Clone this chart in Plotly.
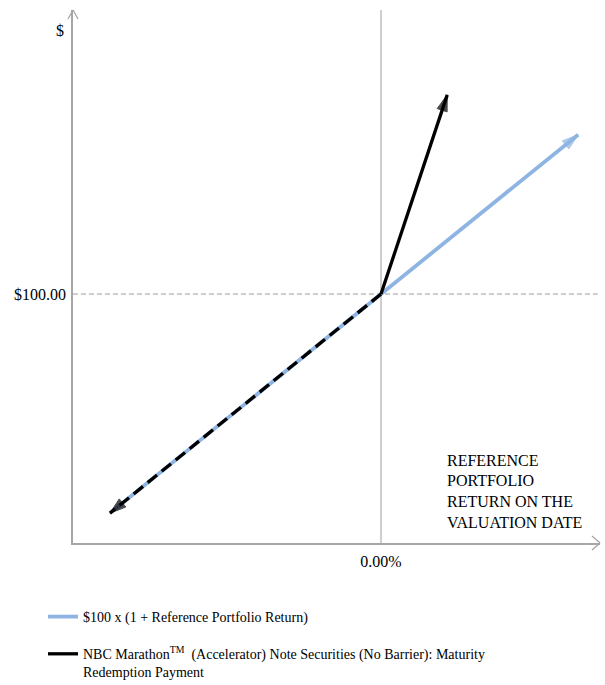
import plotly.graph_objects as go

# Data (return in %, value in $)
ref_x = [-88, 0, 64]
ref_y = [12, 100, 164]
note_up_x = [0, 21.5]
note_up_y = [100, 180]
note_down_x = [0, -88]
note_down_y = [100, 12]
x_range = [-100, 71.1]
y_range = [0, 214.1]
axis_label_lines = ["REFERENCE", "PORTFOLIO", "RETURN ON THE", "VALUATION DATE"]
ref_name = "$100 x (1 + Reference Portfolio Return)"
note_name = "NBC Marathon<sup>TM</sup>  (Accelerator) Note Securities (No Barrier): Maturity<br>Redemption Payment"

BLUE = "#8eb4e3"
BLACK = "#000000"
GRAY = "#a6a6a6"
FONT = "Liberation Serif"
HEAD = 17

fig = go.Figure()
fig.add_trace(go.Scatter(x=ref_x, y=ref_y, mode="lines",
                         line=dict(color=BLUE, width=3.8, backoff=[0, 0, 9]),
                         name=ref_name, legendgroup="a"))
fig.add_trace(go.Scatter(x=note_up_x, y=note_up_y, mode="lines",
                         line=dict(color=BLACK, width=3.3, backoff=[0, 9]),
                         name=note_name, legendgroup="b"))
fig.add_trace(go.Scatter(x=note_down_x, y=note_down_y, mode="lines",
                         line=dict(color=BLACK, width=3.3, dash="12px,6px", backoff=[0, 9]),
                         showlegend=False, legendgroup="b"))

# arrowheads (markers oriented along the last segment of each series)
for xs, ys, col in [(ref_x, ref_y, BLUE), (note_up_x, note_up_y, BLACK), (note_down_x, note_down_y, BLACK)]:
    fig.add_trace(go.Scatter(x=xs[-2:], y=ys[-2:], mode="markers", showlegend=False, hoverinfo="skip",
                             marker=dict(symbol="arrow", angleref="previous", size=[0, HEAD],
                                         color=col, line=dict(width=1, color=col))))

# reference lines
fig.add_shape(type="line", xref="x", yref="paper", x0=0, x1=0, y0=0, y1=1,
              line=dict(color="#bfbfbf", width=1.5), layer="below")
fig.add_shape(type="line", xref="paper", yref="y", x0=0, x1=0.996, y0=100, y1=100,
              line=dict(color="#bfbfbf", width=1.5, dash="5px,3px"), layer="below")

# axis arrow chevrons
pw, ph = 527.0, 533.0
for (xa, ya, xb, yb) in [(-5 / pw, 1 - 9 / ph, 0, 1), (0, 1, 5 / pw, 1 - 9 / ph),
                         (1 - 8 / pw, 7 / ph, 1, 0), (1, 0, 1 - 8 / pw, -7 / ph)]:
    fig.add_shape(type="line", xref="paper", yref="paper", x0=xa, y0=ya, x1=xb, y1=yb,
                  line=dict(color=GRAY, width=1.3))

fig.add_annotation(x=-9 / pw, y=1 - 22 / ph, xref="paper", yref="paper", text="$",
                   showarrow=False, xanchor="center", yanchor="middle", xshift=-4, yshift=2,
                   font=dict(family=FONT, size=16, color="#000"))

for i, t in enumerate(axis_label_lines):
    fig.add_annotation(x=(445 - 73) / pw, y=(543 - (460 + 20.7 * i)) / ph, xref="paper", yref="paper",
                       text=t, showarrow=False, xanchor="left", yanchor="middle",
                       font=dict(family=FONT, size=16, color="#000"))

fig.update_layout(
    width=605, height=685,
    margin=dict(l=73, r=5, t=10, b=142, autoexpand=False),
    paper_bgcolor="white", plot_bgcolor="white",
    font=dict(family=FONT, size=16, color="#000"),
    xaxis=dict(range=x_range, showgrid=False, zeroline=False, showline=True, linecolor=GRAY,
               linewidth=1.5, tickvals=[0], ticktext=["0.00%"], ticks="", fixedrange=True,
               automargin=False, ticklabelstandoff=3, tickfont=dict(family=FONT, size=16)),
    yaxis=dict(range=y_range, showgrid=False, zeroline=False, showline=True, linecolor=GRAY,
               linewidth=1.5, tickvals=[100], ticktext=["$100.00"], ticks="", fixedrange=True,
               automargin=False, ticklabelstandoff=2, tickfont=dict(family=FONT, size=16)),
    showlegend=True,
    legend=dict(x=(43 - 73) / pw, y=(543 - 601) / ph, xanchor="left", yanchor="top",
                font=dict(family=FONT, size=14, color="#000"), tracegroupgap=16,
                valign="top", bgcolor="rgba(0,0,0,0)"),
)

fig.write_html("out.html", config={"displayModeBar": False},
               post_script="document.body.style.margin='0';document.body.style.padding='0';")
